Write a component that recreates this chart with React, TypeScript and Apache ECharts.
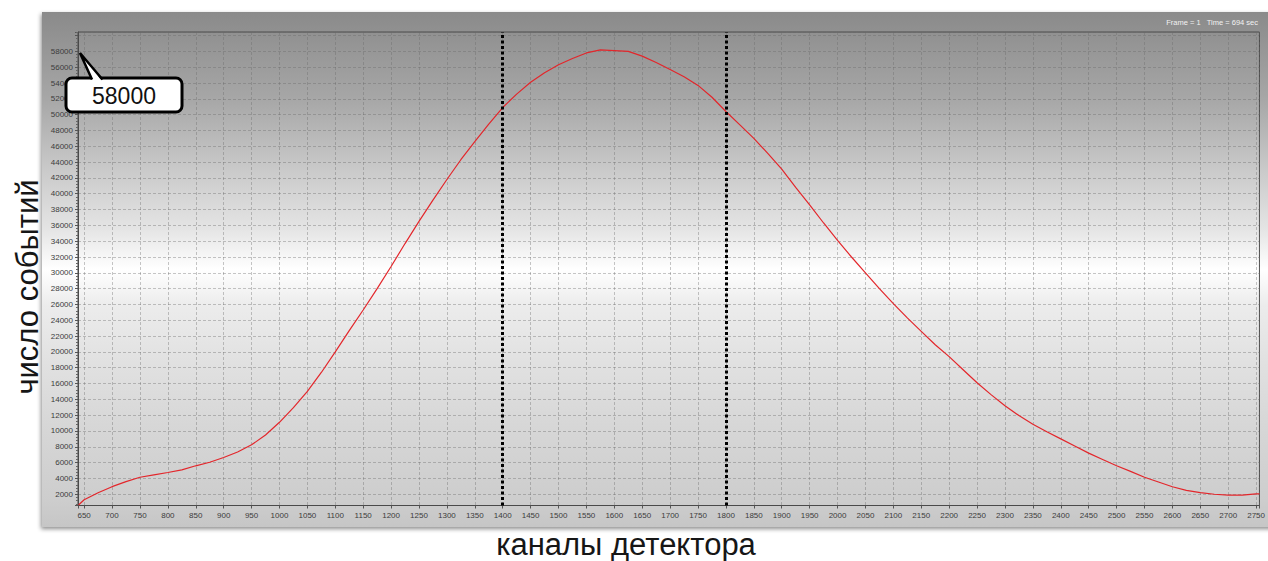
import React, { useEffect, useRef } from "react";
import * as echarts from "echarts";

// Detector channel (x) and number of events (y)
const channels = [
  640, 650, 675, 700, 725, 750, 775, 800, 825, 850, 875, 900, 925, 950, 975,
  1000, 1025, 1050, 1075, 1100, 1125, 1150, 1175, 1200, 1225, 1250, 1275, 1300,
  1325, 1350, 1375, 1400, 1425, 1450, 1475, 1500, 1525, 1550, 1575, 1600, 1625,
  1650, 1675, 1700, 1725, 1750, 1775, 1800, 1825, 1850, 1875, 1900, 1925, 1950,
  1975, 2000, 2025, 2050, 2075, 2100, 2125, 2150, 2175, 2200, 2225, 2250, 2275,
  2300, 2325, 2350, 2375, 2400, 2425, 2450, 2475, 2500, 2525, 2550, 2575, 2600,
  2625, 2650, 2675, 2700, 2725, 2750, 2756,
];
const counts = [
  650, 1300, 2200, 2960, 3600, 4150, 4450, 4750, 5080, 5600, 6050, 6650, 7350,
  8250, 9500, 11100, 12950, 15000, 17400, 20000, 22700, 25300, 28000, 30800,
  33700, 36500, 39200, 41800, 44300, 46600, 48800, 50900, 52600, 54100, 55300,
  56300, 57100, 57800, 58200, 58100, 58000, 57400, 56600, 55700, 54800, 53700,
  52200, 50400, 48700, 47000, 45100, 43100, 40800, 38600, 36300, 34100, 32000,
  30000, 28000, 26100, 24300, 22600, 20900, 19400, 17750, 16100, 14600, 13200,
  11950, 10850, 9900, 9000, 8100, 7200, 6400, 5600, 4900, 4150, 3550, 2950,
  2500, 2200, 2000, 1880, 1900, 2040, 2050,
];
const markerChannels = [1400, 1800];
const calloutText = "58000";
const xTitle = "каналы детектора";
const yTitle = "число событий";
const infoText = "Frame = 1   Time = 694 sec";

export default function App() {
  const ref = useRef<HTMLDivElement>(null);
  useEffect(() => {
    if (!ref.current) return;
    const chart = echarts.init(ref.current, null, { renderer: "svg" });
    const data = channels.map((c, i) => [c, counts[i]]);
    const labelStyle = {
      fontSize: 8,
      color: "#3c3c3c",
      fontFamily: "Liberation Sans, Arial, sans-serif",
    };
    const gridLine = {
      show: true,
      lineStyle: { color: "rgba(105,105,105,0.38)", width: 1, type: [3, 2] as any },
    };
    chart.setOption({
      animation: false,
      backgroundColor: "#ffffff",
      graphic: [
        {
          type: "rect",
          z: -10,
          silent: true,
          shape: { x: 42, y: 12, width: 1240, height: 515 },
          style: {
            fill: {
              type: "linear",
              x: 0,
              y: 0,
              x2: 0,
              y2: 1,
              colorStops: [
                { offset: 0, color: "#8a8a8a" },
                { offset: 0.17, color: "#a7a7a7" },
                { offset: 0.3, color: "#c8c8c8" },
                { offset: 0.42, color: "#e4e4e4" },
                { offset: 0.5, color: "#ffffff" },
                { offset: 0.57, color: "#ececec" },
                { offset: 0.68, color: "#e1e1e1" },
                { offset: 0.8, color: "#d7d7d7" },
                { offset: 0.95, color: "#cdcdcd" },
                { offset: 1, color: "#c6c6c6" },
              ],
            },
            shadowBlur: 4,
            shadowOffsetY: 2,
            shadowOffsetX: -1,
            shadowColor: "rgba(0,0,0,0.45)",
          },
        },
        {
          type: "text",
          z: 5,
          silent: true,
          x: 1258,
          y: 22,
          style: {
            text: infoText,
            fontSize: 7.5,
            fill: "#f2f2f2",
            fontFamily: "Liberation Sans, Arial, sans-serif",
            align: "right",
            verticalAlign: "middle",
          },
        },
        {
          type: "text",
          silent: true,
          x: 626,
          y: 544,
          style: {
            text: xTitle,
            fontSize: 31,
            fill: "#161616",
            fontFamily: "Liberation Sans, Arial, sans-serif",
            align: "center",
            verticalAlign: "middle",
          },
        },
        {
          type: "text",
          silent: true,
          x: 27,
          y: 287,
          rotation: Math.PI / 2,
          style: {
            text: yTitle,
            fontSize: 31,
            fill: "#161616",
            fontFamily: "Liberation Sans, Arial, sans-serif",
            align: "center",
            verticalAlign: "middle",
          },
        },
        {
          type: "rect",
          z: 20,
          silent: true,
          shape: { x: 66, y: 78, width: 116, height: 34, r: 6 },
          style: { fill: "#ffffff", stroke: "#000000", lineWidth: 3 },
        },
        {
          type: "polygon",
          z: 21,
          silent: true,
          shape: { points: [[80, 53], [92.5, 80.5], [101.5, 80.5]] },
          style: { fill: "#ffffff" },
        },
        {
          type: "polyline",
          z: 22,
          silent: true,
          shape: { points: [[92, 79.5], [80, 53], [102.5, 79.5]] },
          style: { stroke: "#000000", lineWidth: 2.5, fill: null },
        },
        {
          type: "text",
          z: 23,
          silent: true,
          x: 124,
          y: 96,
          style: {
            text: calloutText,
            fontSize: 23,
            fill: "#111111",
            fontFamily: "Liberation Sans, Arial, sans-serif",
            align: "center",
            verticalAlign: "middle",
          },
        },
      ],
      grid: {
        left: 78,
        top: 32,
        right: 7,
        bottom: 55.5,
        show: true,
        borderColor: "#4a4a4a",
        borderWidth: 1,
        backgroundColor: "transparent",
      },
      xAxis: {
        type: "value",
        min: 639,
        max: 2756,
        splitNumber: 42,
        minInterval: 50,
        maxInterval: 50,
        axisLine: { show: true, onZero: false, lineStyle: { color: "#4a4a4a" } },
        axisTick: { show: true, length: 3, lineStyle: { color: "#555" } },
        axisLabel: {
          ...labelStyle,
          margin: 6,
          formatter: (v: number) => (v % 50 === 0 ? String(v) : ""),
        },
        splitLine: gridLine,
      },
      yAxis: {
        type: "value",
        min: 580,
        max: 60450,
        splitNumber: 30,
        minInterval: 2000,
        maxInterval: 2000,
        axisLine: { show: true, lineStyle: { color: "#4a4a4a" } },
        axisTick: { show: true, length: 3, lineStyle: { color: "#555" } },
        minorTick: { show: true, splitNumber: 5, length: 2, lineStyle: { color: "#666" } },
        axisLabel: {
          ...labelStyle,
          margin: 5,
          formatter: (v: number) =>
            v % 2000 === 0 && v <= 58000 ? String(v) : "",
        },
        splitLine: gridLine,
      },
      series: [
        {
          type: "line",
          data,
          symbol: "none",
          lineStyle: { color: "#e3262b", width: 1.2 },
          z: 3,
          markLine: {
            silent: true,
            symbol: "none",
            animation: false,
            label: { show: false },
            lineStyle: { color: "#000000", width: 3, type: [3, 2.5] as any, cap: "butt" },
            emphasis: { disabled: true },
            data: markerChannels.map((c) => ({ xAxis: c })),
          },
        },
      ],
    });
    return () => chart.dispose();
  }, []);
  return (
    <div
      ref={ref}
      style={{ position: "fixed", left: 0, top: 0, width: 1268, height: 561 }}
    />
  );
}
